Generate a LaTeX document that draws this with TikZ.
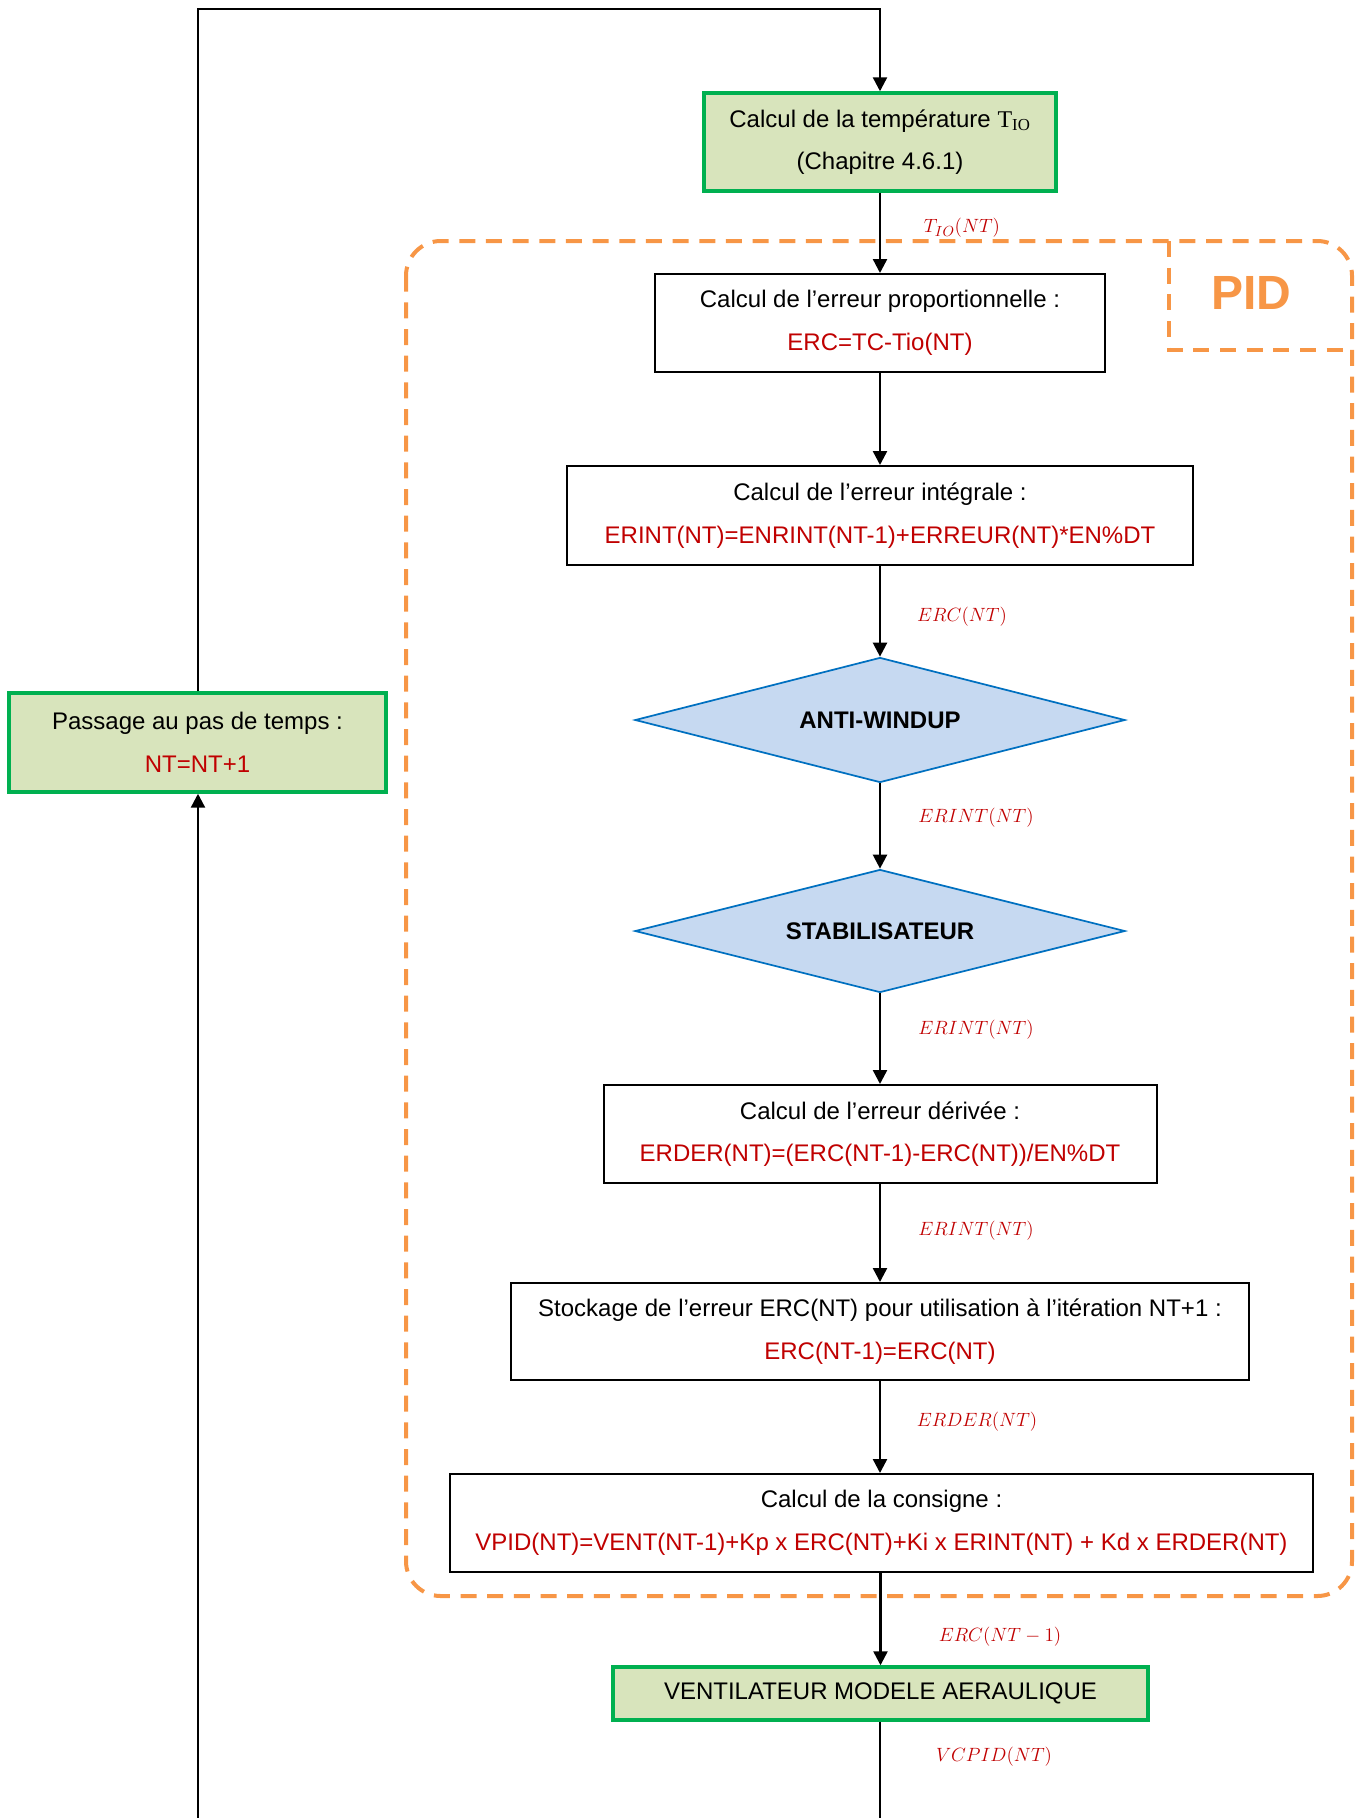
\documentclass[tikz,border=0pt]{standalone}
\usepackage[no-math]{fontspec}
\setmainfont{Liberation Sans}
\newfontfamily\serifo{Liberation Serif}
\usetikzlibrary{shapes.geometric,arrows.meta}
\definecolor{gfill}{HTML}{D8E4BC}
\definecolor{gborder}{HTML}{00B050}
\definecolor{dfill}{HTML}{C6D9F1}
\definecolor{dborder}{HTML}{0070C0}
\definecolor{pidorange}{HTML}{F79646}
\definecolor{fred}{HTML}{C00000}
\tikzset{
  x=0.75pt, y=-0.75pt,
  wh/.style 2 args={minimum width=#1*0.75pt, minimum height=#2*0.75pt},
  txt/.style={font=\fontsize{18}{32}\selectfont, align=center, inner sep=0pt},
  blackbox/.style={txt, draw=black, line width=1.5pt, fill=white},
  greenbox/.style={txt, draw=gborder, line width=2.6pt, fill=gfill},
  dia/.style={diamond, aspect=3.9, draw=dborder, fill=dfill, line width=1.3pt, inner sep=0pt, font=\fontsize{18}{20}\selectfont\bfseries},
  conn/.style={line width=1.8pt, -{Triangle[length=10.5pt,width=10.5pt]}},
  lbl/.style={text=fred, font=\fontsize{15.5}{20}\selectfont, inner sep=0pt},
  pid/.style={draw=pidorange, line width=3pt, dash pattern=on 12pt off 8pt},
}
\newcommand{\rd}[1]{\textcolor{fred}{#1}}
\begin{document}
\begin{tikzpicture}
\useasboundingbox (0,0) rectangle (1366,1818);
% PID frame
\draw[pid, rounded corners=26pt] (406,241) rectangle (1352,1596);
\draw[pid] (1169,241) -- (1169,350) -- (1352,350);
\node[text=pidorange, font=\fontsize{36}{40}\selectfont\bfseries, inner sep=0pt] (pidt) at (1251,293) {PID};

% nodes
\node[greenbox, wh={352}{98}] (b1) at (880,142)
  {Calcul de la température {\serifo T\textsubscript{IO}}\\(Chapitre 4.6.1)};
\node[blackbox, wh={450}{98}] (b2) at (880,323)
  {Calcul de l’erreur proportionnelle :\\\rd{ERC=TC-Tio(NT)}};
\node[blackbox, wh={626}{99}] (b3) at (880,515.5)
  {Calcul de l’erreur intégrale :\\\rd{ERINT(NT)=ENRINT(NT-1)+ERREUR(NT)*EN\%DT}};
\node[dia, wh={490}{125}] (d1) at (880,720) {ANTI-WINDUP};
\node[dia, wh={490}{123}] (d2) at (880,931) {STABILISATEUR};
\node[blackbox, wh={553}{98}] (b4) at (880,1134)
  {Calcul de l’erreur dérivée :\\\rd{ERDER(NT)=(ERC(NT-1)-ERC(NT))/EN\%DT}};
\node[blackbox, wh={738}{97}] (b5) at (880,1331.5)
  {Stockage de l’erreur ERC(NT) pour utilisation à l’itération NT+1 :\\\rd{ERC(NT-1)=ERC(NT)}};
\node[blackbox, wh={863}{98}] (b6) at (881.5,1523)
  {Calcul de la consigne :\\\rd{VPID(NT)=VENT(NT-1)+Kp x ERC(NT)+Ki x ERINT(NT) + Kd x ERDER(NT)}};
\node[greenbox, wh={535}{53}] (b7) at (880.5,1693.5)
  {VENTILATEUR MODELE AERAULIQUE};
\node[greenbox, wh={377}{99}] (b8) at (197.5,742.5)
  {Passage au pas de temps :\\\rd{NT=NT+1}};

% coordinates
\coordinate (tl) at (198,9);
\coordinate (tr) at (880,9);
\coordinate (bl) at (198,1818);
\coordinate (br) at (880,1818);

% connectors
\draw[conn] (b8.north -| tl) -- (tl) -- (tr) -- (b1.north);
\draw[conn] (b1) -- (b2);
\draw[conn] (b2) -- (b3);
\draw[conn] (b3) -- (d1);
\draw[conn] (d1) -- (d2);
\draw[conn] (d2) -- (b4);
\draw[conn] (b4) -- (b5);
\draw[conn] (b5.south) -- (b5.south |- b6.north);
\draw[conn] (b6.south -| b7.north) -- (b7.north);
\draw[line width=1.2pt] (b7.south -| br) -- (br);
\draw[conn] (bl) -- (b8.south -| bl);

% labels
\node[lbl] (l1) at (962,228) {$T_{IO}(NT)$};
\node[lbl] (l2) at (962,617) {$ERC(NT)$};
\node[lbl] (l3) at (976,818) {$ERINT(NT)$};
\node[lbl] (l4) at (976,1030) {$ERINT(NT)$};
\node[lbl] (l5) at (976,1231) {$ERINT(NT)$};
\node[lbl] (l6) at (977,1422) {$ERDER(NT)$};
\node[lbl] (l7) at (1000,1637) {$ERC(NT-1)$};
\node[lbl] (l8) at (994,1757) {$VCPID(NT)$};
\end{tikzpicture}
\end{document}
